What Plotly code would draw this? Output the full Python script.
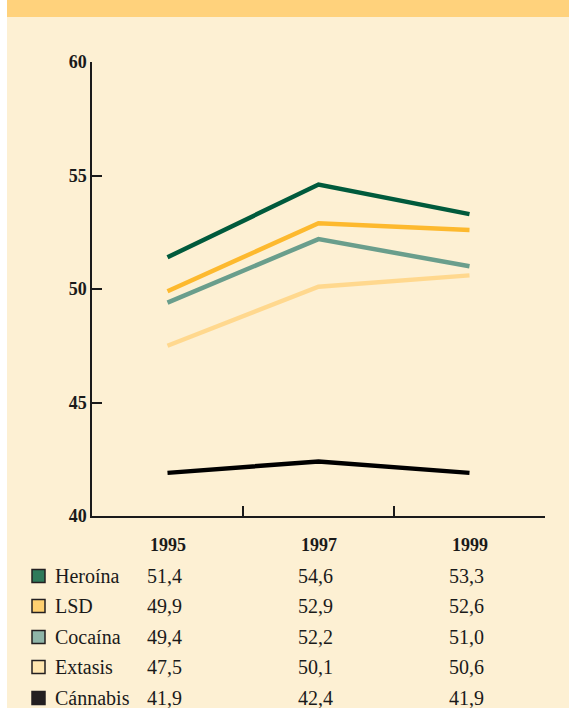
import plotly.graph_objects as go

years = ["1995", "1997", "1999"]
series_names = ["Heroína", "LSD", "Cocaína", "Extasis", "Cánnabis"]
heroina = [51.4, 54.6, 53.3]
lsd = [49.9, 52.9, 52.6]
cocaina = [49.4, 52.2, 51.0]
extasis = [47.5, 50.1, 50.6]
cannabis = [41.9, 42.4, 41.9]
value_labels = [
    ["51,4", "54,6", "53,3"],
    ["49,9", "52,9", "52,6"],
    ["49,4", "52,2", "51,0"],
    ["47,5", "50,1", "50,6"],
    ["41,9", "42,4", "41,9"],
]
line_colors = ["#005a3c", "#fdb92e", "#6a9e8c", "#ffd88e", "#000000"]
swatch_colors = ["#2e7a5a", "#ffd070", "#8fb5a8", "#ffe6b0", "#231f20"]
y_ticks = [40, 45, 50, 55, 60]

W, H = 569, 708
ML, MR, MT, MB = 92, 24, 62, 192
PH = H - MT - MB
PW = W - ML - MR
FONT = "Liberation Serif"

def py(p):  # pixel y -> paper y
    return (H - MB - p) / PH

def px(p):  # pixel x -> paper x
    return (p - ML) / PW

xpos = [0.5, 1.5, 2.5]
all_series = [heroina, lsd, cocaina, extasis, cannabis]

fig = go.Figure()
for name, vals, col in zip(series_names, all_series, line_colors):
    fig.add_trace(go.Scatter(x=xpos, y=vals, mode="lines", name=name,
                             line=dict(color=col, width=4.5), showlegend=False))

shapes = [
    dict(type="rect", xref="paper", yref="paper", x0=px(7), x1=px(W), y0=py(H), y1=py(0),
         fillcolor="#fdf0d3", line=dict(width=0), layer="below"),
    dict(type="rect", xref="paper", yref="paper", x0=px(7), x1=px(W), y0=py(17), y1=py(0),
         fillcolor="#ffd27c", line=dict(width=0), layer="below"),
]
annotations = []
for i, yr in enumerate(years):
    annotations.append(dict(x=xpos[i], xref="x", y=py(545), yref="paper", text=yr,
                            showarrow=False, xanchor="center", yanchor="middle",
                            font=dict(family=FONT, size=18, color="#1a1a1a", weight="bold")))
row_y = [576, 606, 637, 667, 698]
for r, name in enumerate(series_names):
    yy = row_y[r]
    shapes.append(dict(type="rect", xref="paper", yref="paper",
                       x0=px(32), x1=px(45), y0=py(yy + 6.5), y1=py(yy - 6.5),
                       fillcolor=swatch_colors[r], line=dict(color="#231f20", width=1.5)))
    annotations.append(dict(x=px(53), xref="paper", y=py(yy), yref="paper", text=name,
                            showarrow=False, xanchor="left", yanchor="middle",
                            font=dict(family=FONT, size=20, color="#1a1a1a")))
    for c in range(3):
        annotations.append(dict(x=xpos[c], xref="x", y=py(yy), yref="paper",
                                text=value_labels[r][c], showarrow=False,
                                xanchor="center", yanchor="middle", xshift=-3,
                                font=dict(family=FONT, size=20, color="#1a1a1a")))

fig.update_layout(
    width=W, height=H,
    margin=dict(l=ML, r=MR, t=MT, b=MB),
    paper_bgcolor="white", plot_bgcolor="rgba(0,0,0,0)",
    shapes=shapes, annotations=annotations,
    xaxis=dict(range=[0, 3], tickvals=[1, 2, 3], ticktext=["", "", ""], ticks="inside",
               ticklen=10, tickwidth=1.5, tickcolor="#1a1a1a", showline=True,
               linecolor="#1a1a1a", linewidth=1.5, showgrid=False, zeroline=False,
               fixedrange=True),
    yaxis=dict(range=[40, 60], tickvals=y_ticks, ticks="inside", ticklen=10,
               tickwidth=1.5, tickcolor="#1a1a1a", showline=True, linecolor="#1a1a1a",
               linewidth=1.5, showgrid=False, zeroline=False,
               tickfont=dict(family=FONT, size=18, color="#1a1a1a", weight="bold"),
               fixedrange=True),
)
fig.write_html("out.html", config={"displayModeBar": False},
               post_script="document.body.style.margin='0';document.body.style.overflow='hidden';")
